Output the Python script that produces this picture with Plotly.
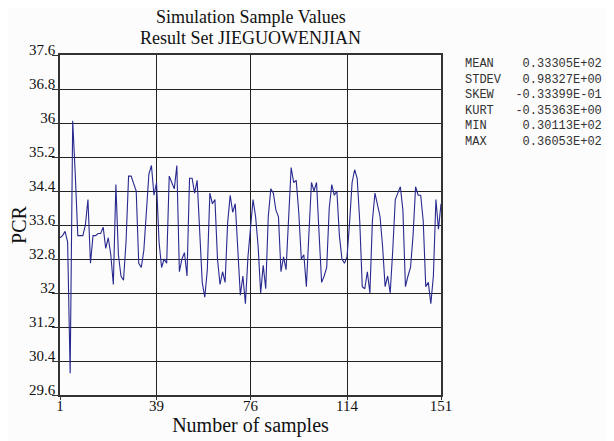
import plotly.graph_objects as go

samples = list(range(1, 152))
pcr = [
    33.3, 33.35, 33.45, 33.2, 30.11, 36.05, 34.8, 33.35, 33.35, 33.35,
    33.6, 34.2, 32.7, 33.35, 33.35, 33.4, 33.4, 33.55, 33.05, 33.3,
    32.9, 32.2, 34.55, 32.9, 32.4, 32.3, 33.2, 34.75, 34.75, 34.55,
    34.4, 32.7, 32.6, 33.0, 33.9, 34.8, 35.0, 34.3, 34.6, 33.2,
    32.6, 32.8, 32.7, 34.75, 34.6, 34.45, 35.0, 32.5, 32.8, 32.95,
    32.4, 34.7, 34.7, 34.35, 34.65, 33.6, 32.25, 31.9, 32.55, 34.35,
    34.1, 34.2, 32.8, 32.2, 32.5, 32.25, 33.65, 34.3, 33.9, 34.1,
    33.0, 31.95, 32.4, 31.75, 32.85, 33.6, 34.2, 33.8, 33.1, 32.0,
    32.65, 32.1, 33.8, 34.45, 34.35, 33.95, 33.8, 32.5, 32.85, 32.55,
    33.6, 34.95, 34.6, 34.65, 33.9, 32.8, 32.9, 32.15, 33.4, 34.6,
    34.4, 34.6, 33.4, 32.25, 32.4, 32.6, 34.0, 34.55, 34.3, 34.4,
    33.35, 32.8, 32.7, 32.85, 33.65, 34.6, 34.9, 34.7, 33.7, 32.15,
    32.1, 32.5, 32.0, 33.7, 34.35, 34.05, 33.8, 33.1, 32.15, 32.4,
    32.0, 33.0, 34.2, 34.35, 34.5, 33.95, 32.15, 32.4, 32.6, 33.35,
    34.5, 34.3, 34.3, 33.7, 32.15, 32.25, 31.75, 32.4, 34.2, 33.5,
    34.1,
]

x_tickvals = [1, 39, 76, 114, 151]
x_ticktext = ["1", "39", "76", "114", "151"]
y_tickvals = [29.6, 30.4, 31.2, 32.0, 32.8, 33.6, 34.4, 35.2, 36.0, 36.8, 37.6]
y_ticktext = ["29.6", "30.4", "31.2", "32", "32.8", "33.6", "34.4", "35.2", "36", "36.8", "37.6"]

stat_names = ["MEAN", "STDEV", "SKEW", "KURT", "MIN", "MAX"]
stat_values = ["0.33305E+02", "0.98327E+00", "-0.33399E-01", "-0.35363E+00", "0.30113E+02", "0.36053E+02"]

title_lines = ["Simulation Sample Values", "Result Set JIEGUOWENJIAN"]

serif = "Liberation Serif, Times New Roman, serif"

fig = go.Figure()
fig.add_trace(go.Scatter(
    x=samples, y=pcr, mode="lines",
    line=dict(color="#28298f", width=1.1),
    showlegend=False, hoverinfo="skip",
))

stats_text = "<br>".join(n.ljust(6) + v.rjust(13) for n, v in zip(stat_names, stat_values)).replace(" ", "&nbsp;")

fig.add_annotation(
    xref="paper", yref="paper", x=1.058, y=1.0, xanchor="left", yanchor="top",
    text=stats_text, showarrow=False, align="left",
    font=dict(family="Liberation Mono, monospace", size=12, color="#333333"),
)

# title lines (paper: plot area 340 px tall)
for line, ypx in zip(title_lines, [38, 17]):
    fig.add_annotation(
        xref="paper", yref="paper", x=0.5, y=1 + ypx / 340, xanchor="center", yanchor="middle",
        text=line, showarrow=False,
        font=dict(family=serif, size=18, color="#111111"),
    )

fig.update_layout(
    width=606, height=433,
    margin=dict(l=52, r=173, t=47, b=46),
    paper_bgcolor="#fcfcfc", plot_bgcolor="#fcfcfc",
    font=dict(family=serif, color="#111111"),
)

fig.update_xaxes(
    range=[1, 151], tickvals=x_tickvals, ticktext=x_ticktext,
    showgrid=True, gridcolor="#222222", gridwidth=1.3,
    showline=True, linecolor="#333333", linewidth=1.5, mirror=True,
    ticks="outside", ticklen=3, tickcolor="#333333", ticklabelstandoff=-7,
    tickfont=dict(family=serif, size=15, color="#111111"),
    title=dict(text="Number of samples", font=dict(family=serif, size=20, color="#111111"), standoff=0),
    zeroline=False, automargin=False,
)
fig.update_yaxes(
    range=[29.6, 37.6], tickvals=y_tickvals, ticktext=y_ticktext,
    showgrid=True, gridcolor="#222222", gridwidth=1.3,
    showline=True, linecolor="#333333", linewidth=1.5, mirror=True,
    ticks="outside", ticklen=6, tickcolor="#333333",
    ticklabelposition="outside top", ticklabelshift=6,
    tickfont=dict(family=serif, size=15, color="#111111"),
    title=dict(text="PCR", font=dict(family=serif, size=20, color="#111111")),
    zeroline=False, automargin=False,
)

fig.write_html("out.html")
